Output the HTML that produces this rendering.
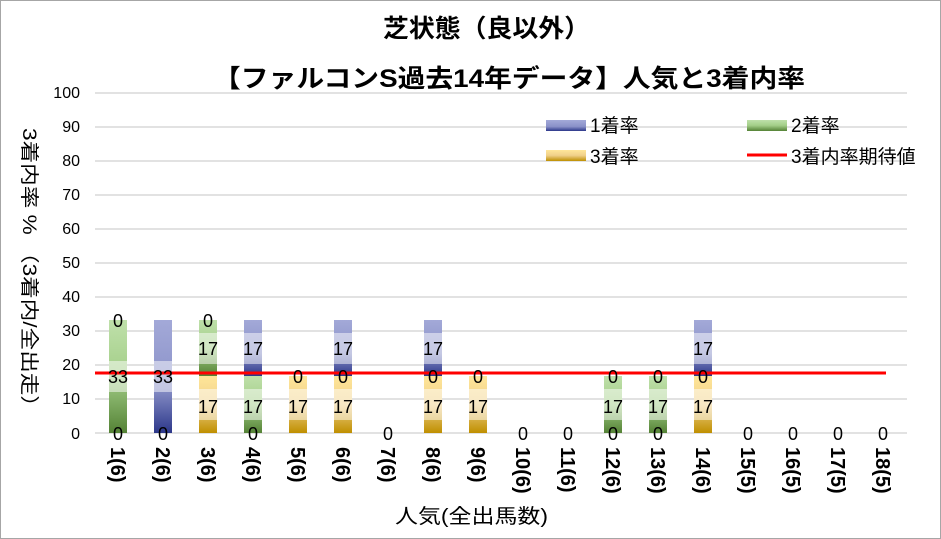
<!DOCTYPE html>
<html><head><meta charset="utf-8"><style>
html,body{margin:0;padding:0;background:#fff}
svg{display:block;font-family:"Liberation Sans","Noto Sans CJK JP",sans-serif}
</style></head><body>
<svg width="941" height="539" viewBox="0 0 941 539" xmlns="http://www.w3.org/2000/svg">
<defs>
<linearGradient id="gp" x1="0" y1="0" x2="0" y2="1"><stop offset="0" stop-color="#A3A9D8"/><stop offset="0.6" stop-color="#8A91C8"/><stop offset="1" stop-color="#2C378A"/></linearGradient>
<linearGradient id="gg" x1="0" y1="0" x2="0" y2="1"><stop offset="0" stop-color="#BFE0AA"/><stop offset="0.5" stop-color="#A3CE88"/><stop offset="1" stop-color="#548235"/></linearGradient>
<linearGradient id="gy" x1="0" y1="0" x2="0" y2="1"><stop offset="0" stop-color="#FFE699"/><stop offset="0.5" stop-color="#F0D08A"/><stop offset="1" stop-color="#BF8F00"/></linearGradient>
</defs>
<rect x="0.5" y="0.5" width="940" height="538" fill="#fff" stroke="#a6a6a6"/>
<g font-weight="bold" font-size="25" fill="#000">
<text x="383" y="37" textLength="207" lengthAdjust="spacingAndGlyphs">芝状態（良以外）</text>
<text x="213" y="87" textLength="592" lengthAdjust="spacingAndGlyphs">【ファルコンS過去14年データ】人気と3着内率</text>
</g>
<g stroke="#d9d9d9" stroke-width="1.5">
<line x1="95" x2="907" y1="93" y2="93"/><line x1="95" x2="907" y1="127" y2="127"/><line x1="95" x2="907" y1="161" y2="161"/><line x1="95" x2="907" y1="195" y2="195"/><line x1="95" x2="907" y1="229" y2="229"/><line x1="95" x2="907" y1="263" y2="263"/><line x1="95" x2="907" y1="297" y2="297"/><line x1="95" x2="907" y1="331" y2="331"/><line x1="95" x2="907" y1="365" y2="365"/><line x1="95" x2="907" y1="399" y2="399"/><line x1="95" x2="907" y1="433" y2="433"/>
</g>
<g font-size="16" text-anchor="end" fill="#000">
<text x="80" y="98">100</text><text x="80" y="132">90</text><text x="80" y="166">80</text><text x="80" y="200">70</text><text x="80" y="234">60</text><text x="80" y="268">50</text><text x="80" y="302">40</text><text x="80" y="336">30</text><text x="80" y="370">20</text><text x="80" y="404">10</text><text x="80" y="439">0</text>
</g>
<text transform="translate(23,128) rotate(90)" font-size="19" textLength="290" lengthAdjust="spacingAndGlyphs">3着内率 %  （3着内/全出走）</text>
<g>
<rect x="109" y="320" width="18" height="113" fill="url(#gg)"/>
<rect x="154" y="320" width="18" height="113" fill="url(#gp)"/>
<rect x="199" y="376" width="18" height="57" fill="url(#gy)"/><rect x="199" y="320" width="18" height="56" fill="url(#gg)"/>
<rect x="244" y="376" width="18" height="57" fill="url(#gg)"/><rect x="244" y="320" width="18" height="56" fill="url(#gp)"/>
<rect x="289" y="376" width="18" height="57" fill="url(#gy)"/>
<rect x="334" y="376" width="18" height="57" fill="url(#gy)"/><rect x="334" y="320" width="18" height="56" fill="url(#gp)"/>
<rect x="424" y="376" width="18" height="57" fill="url(#gy)"/><rect x="424" y="320" width="18" height="56" fill="url(#gp)"/>
<rect x="469" y="376" width="18" height="57" fill="url(#gy)"/>
<rect x="604" y="376" width="18" height="57" fill="url(#gg)"/>
<rect x="649" y="376" width="18" height="57" fill="url(#gg)"/>
<rect x="694" y="376" width="18" height="57" fill="url(#gy)"/><rect x="694" y="320" width="18" height="56" fill="url(#gp)"/>
</g>
<g fill="#fff" opacity="0.5">
<rect x="109" y="361" width="18" height="31"/><rect x="154" y="361" width="18" height="31"/>
<rect x="199" y="333" width="18" height="31"/><rect x="199" y="389" width="18" height="31"/>
<rect x="244" y="333" width="18" height="31"/><rect x="244" y="389" width="18" height="31"/>
<rect x="289" y="389" width="18" height="31"/><rect x="334" y="333" width="18" height="31"/><rect x="334" y="389" width="18" height="31"/>
<rect x="424" y="333" width="18" height="31"/><rect x="424" y="389" width="18" height="31"/><rect x="469" y="389" width="18" height="31"/>
<rect x="604" y="389" width="18" height="31"/><rect x="649" y="389" width="18" height="31"/><rect x="694" y="333" width="18" height="31"/><rect x="694" y="389" width="18" height="31"/>
</g>
<line x1="95" x2="886" y1="373" y2="373" stroke="#ff0000" stroke-width="3"/>
<g font-size="18" text-anchor="middle" fill="#000">
<text x="118" y="327">0</text><text x="118" y="383">33</text><text x="118" y="440">0</text>
<text x="163" y="383">33</text><text x="163" y="440">0</text>
<text x="208" y="327">0</text><text x="208" y="355">17</text><text x="208" y="413">17</text>
<text x="253" y="355">17</text><text x="253" y="413">17</text><text x="253" y="440">0</text>
<text x="298" y="383">0</text><text x="298" y="413">17</text>
<text x="343" y="355">17</text><text x="343" y="383">0</text><text x="343" y="413">17</text>
<text x="388" y="440">0</text>
<text x="433" y="355">17</text><text x="433" y="383">0</text><text x="433" y="413">17</text>
<text x="478" y="383">0</text><text x="478" y="413">17</text>
<text x="523" y="440">0</text><text x="568" y="440">0</text>
<text x="613" y="383">0</text><text x="613" y="413">17</text><text x="613" y="440">0</text>
<text x="658" y="383">0</text><text x="658" y="413">17</text><text x="658" y="440">0</text>
<text x="703" y="355">17</text><text x="703" y="383">0</text><text x="703" y="413">17</text>
<text x="748" y="440">0</text><text x="793" y="440">0</text><text x="838" y="440">0</text><text x="883" y="440">0</text>
</g>
<g font-size="20" font-weight="bold" fill="#000">
<text transform="translate(111,447) rotate(90)">1(6)</text>
<text transform="translate(156,447) rotate(90)">2(6)</text>
<text transform="translate(201,447) rotate(90)">3(6)</text>
<text transform="translate(246,447) rotate(90)">4(6)</text>
<text transform="translate(291,447) rotate(90)">5(6)</text>
<text transform="translate(336,447) rotate(90)">6(6)</text>
<text transform="translate(381,447) rotate(90)">7(6)</text>
<text transform="translate(426,447) rotate(90)">8(6)</text>
<text transform="translate(471,447) rotate(90)">9(6)</text>
<text transform="translate(516,447) rotate(90)">10(6)</text>
<text transform="translate(561,447) rotate(90)">11(6)</text>
<text transform="translate(606,447) rotate(90)">12(6)</text>
<text transform="translate(651,447) rotate(90)">13(6)</text>
<text transform="translate(696,447) rotate(90)">14(6)</text>
<text transform="translate(741,447) rotate(90)">15(5)</text>
<text transform="translate(786,447) rotate(90)">16(5)</text>
<text transform="translate(831,447) rotate(90)">17(5)</text>
<text transform="translate(876,447) rotate(90)">18(5)</text>
</g>
<text x="395" y="523" font-size="20" textLength="153" lengthAdjust="spacingAndGlyphs">人気(全出馬数)</text>
<rect x="546" y="120" width="40" height="11" fill="url(#gp)"/>
<text x="590" y="132" font-size="19">1着率</text>
<rect x="747" y="120" width="40" height="11" fill="url(#gg)"/>
<text x="791" y="132" font-size="19">2着率</text>
<rect x="546" y="150" width="40" height="11" fill="url(#gy)"/>
<text x="590" y="163" font-size="19">3着率</text>
<line x1="747" x2="787" y1="155" y2="155" stroke="#ff0000" stroke-width="3"/>
<text x="791" y="163" font-size="19">3着内率期待値</text>
</svg>
</body></html>
